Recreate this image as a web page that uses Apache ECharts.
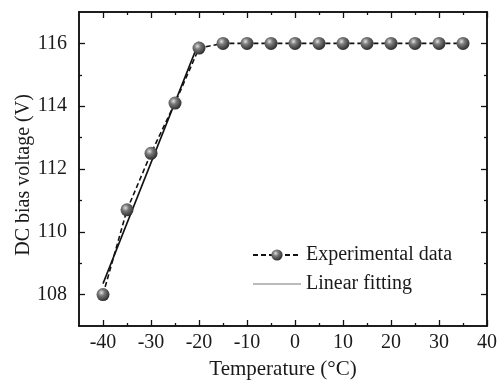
<!DOCTYPE html>
<html>
<head>
<meta charset="utf-8">
<script src="https://cdn.jsdelivr.net/npm/echarts@6/dist/echarts.min.js"></script>
<style>html,body{margin:0;padding:0;background:#fff}#c{width:501px;height:385px}</style>
</head>
<body>
<div id="c"></div>
<script>
const temps = [-40, -35, -30, -25, -20, -15, -10, -5, 0, 5, 10, 15, 20, 25, 30, 35];
const voltages = [108.0, 110.7, 112.5, 114.1, 115.85, 116.0, 116.0, 116.0, 116.0, 116.0, 116.0, 116.0, 116.0, 116.0, 116.0, 116.0];
const fitX = [-40, -20];
const fitY = [108.35, 116.05];
const xMajor = [-40, -30, -20, -10, 0, 10, 20, 30, 40];
const xMinor = [-35, -25, -15, -5, 5, 15, 25, 35];
const yMajor = [108, 110, 112, 114, 116];
const yMinor = [109, 111, 113, 115];
const seriesNames = ['Experimental data', 'Linear fitting'];

const FONT = 'Liberation Serif';
const lineCol = '#111';
function xAxisDef(pos, ticks, len, labels) {
  return {
    type: 'value', position: pos, min: -45, max: 40,
    axisLine: {show: true, onZero: false, lineStyle: {color: lineCol, width: 1.5}},
    axisTick: {show: true, inside: true, length: len, customValues: ticks, lineStyle: {color: lineCol, width: 1.3}},
    axisLabel: labels ? {show: true, customValues: xMajor, fontFamily: FONT, fontSize: 20, color: '#1a1a1a', margin: 7} : {show: false},
    splitLine: {show: false},
    name: labels ? 'Temperature (°C)' : '', nameLocation: 'middle', nameGap: 33, nameMoveOverlap: false,
    nameTextStyle: {fontFamily: FONT, fontSize: 21, color: '#1a1a1a'}
  };
}
function yAxisDef(pos, ticks, len, labels) {
  return {
    type: 'value', position: pos, min: 107, max: 117,
    axisLine: {show: true, onZero: false, lineStyle: {color: lineCol, width: 1.5}},
    axisTick: {show: true, inside: true, length: len, customValues: ticks, lineStyle: {color: lineCol, width: 1.3}},
    axisLabel: labels ? {show: true, customValues: yMajor, fontFamily: FONT, fontSize: 20, color: '#1a1a1a', margin: 12} : {show: false},
    splitLine: {show: false},
    name: labels ? 'DC bias voltage (V)' : '', nameLocation: 'middle', nameGap: 45, nameRotate: 90, nameMoveOverlap: false,
    nameTextStyle: {fontFamily: FONT, fontSize: 20, color: '#1a1a1a', padding: [0, 12, 0, 0]}
  };
}
const sphere = {
  type: 'radial', x: 0.38, y: 0.35, r: 0.7,
  colorStops: [{offset: 0, color: '#e0e0e0'}, {offset: 0.35, color: '#7a7a7a'}, {offset: 1, color: '#262626'}]
};
const chart = echarts.init(document.getElementById('c'), null, {renderer: 'canvas'});
chart.setOption({
  animation: false,
  backgroundColor: '#fff',
  grid: {left: 79, right: 14, top: 12, bottom: 57},
  xAxis: [xAxisDef('bottom', xMajor, 6, true), xAxisDef('bottom', xMinor, 3, false), xAxisDef('top', xMajor, 6, false), xAxisDef('top', xMinor, 3, false)],
  yAxis: [yAxisDef('left', yMajor, 6, true), yAxisDef('left', yMinor, 3, false), yAxisDef('right', yMajor, 6, false), yAxisDef('right', yMinor, 3, false)],
  legend: {
    orient: 'vertical', left: 247, top: 240, itemWidth: 48, itemHeight: 14, itemGap: 9,
    textStyle: {fontFamily: FONT, fontSize: 20, color: '#1a1a1a'},
    data: [
      {name: seriesNames[0]},
      {name: seriesNames[1], lineStyle: {color: '#777', width: 1}, itemStyle: {color: 'rgba(0,0,0,0)', borderWidth: 0, opacity: 0}}
    ]
  },
  series: [
    {
      name: seriesNames[0], type: 'line', xAxisIndex: 0, yAxisIndex: 0,
      data: temps.map((t, i) => [t, voltages[i]]),
      symbol: 'circle', symbolSize: 13,
      itemStyle: {color: sphere, borderWidth: 0},
      lineStyle: {color: '#111', width: 1.6, type: [5, 3]},
      z: 3
    },
    {
      name: seriesNames[1], type: 'line', xAxisIndex: 0, yAxisIndex: 0,
      data: fitX.map((t, i) => [t, fitY[i]]),
      symbol: 'none',
      itemStyle: {color: '#111'},
      lineStyle: {color: '#111', width: 1.6},
      z: 2
    }
  ]
});
</script>
</body>
</html>
